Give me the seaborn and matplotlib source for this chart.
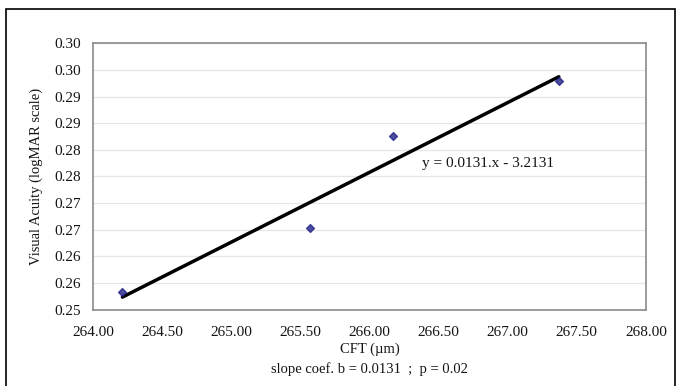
import numpy as np
import pandas as pd
import seaborn as sns
import matplotlib
matplotlib.use("Agg")
import matplotlib.pyplot as plt
from matplotlib.patches import Rectangle

# Data
cft = [264.21, 265.57, 266.17, 267.37]
visual_acuity = [0.2533, 0.2654, 0.2826, 0.2929]

x_ticks = [264.0, 264.5, 265.0, 265.5, 266.0, 266.5, 267.0, 267.5, 268.0]
y_ticks = [0.250, 0.255, 0.260, 0.265, 0.270, 0.275, 0.280, 0.285, 0.290, 0.295, 0.300]
y_tick_labels = ["0.25", "0.26", "0.26", "0.27", "0.27", "0.28",
                 "0.28", "0.29", "0.29", "0.30", "0.30"]

df = pd.DataFrame({"CFT": cft, "VA": visual_acuity})

sns.set_style("white")
plt.rcParams["font.family"] = ["Liberation Serif", "DejaVu Serif"]

fig = plt.figure(figsize=(6.77, 3.86), dpi=100)
ax = fig.add_axes([0.138, 0.198, 0.816, 0.69])

# Regression line + scatter
sns.regplot(
    data=df, x="CFT", y="VA", ax=ax, ci=None,
    marker="D",
    scatter_kws={"color": "#22228a", "s": 16, "zorder": 3},
    line_kws={"color": "black", "linewidth": 2.5, "zorder": 2},
)

ax.set_xlim(264.0, 268.0)
ax.set_ylim(0.25, 0.30)
ax.set_xticks(x_ticks)
ax.set_xticklabels([f"{v:.2f}" for v in x_ticks])
ax.set_yticks(y_ticks)
ax.set_yticklabels(y_tick_labels)

ax.grid(axis="y", color="#e6e6e6", linewidth=0.9)
ax.set_axisbelow(True)
for s in ax.spines.values():
    s.set_color("#8a8a8a")
    s.set_linewidth(1.2)

ax.tick_params(axis="both", which="both", direction="out", length=4,
               width=0.8, color="#b0b0b0", labelsize=11,
               labelcolor="#141414")
ax.tick_params(axis="x", pad=8)
ax.tick_params(axis="y", pad=5)

ax.set_xlabel("CFT (\u00b5m)", fontsize=10.5, color="#141414", labelpad=2)
ax.set_ylabel("Visual Acuity (logMAR scale)", fontsize=10.5, color="#141414", labelpad=8)

ax.text(266.38, 0.2775, "y = 0.0131.x - 3.2131", fontsize=11, color="#141414",
        va="center", ha="left")

fig.text(0.5455, 0.044, "slope coef. b = 0.0131  ;  p = 0.02", fontsize=10.5,
         color="#141414", ha="center", va="center")

# Outer frame around the chart
fig.patches.append(Rectangle((6 / 677, -0.05), 669 / 677, 1.05 - 9 / 386,
                             transform=fig.transFigure, fill=False,
                             edgecolor="black", linewidth=1.2))

fig.savefig("out.png", dpi=100)
